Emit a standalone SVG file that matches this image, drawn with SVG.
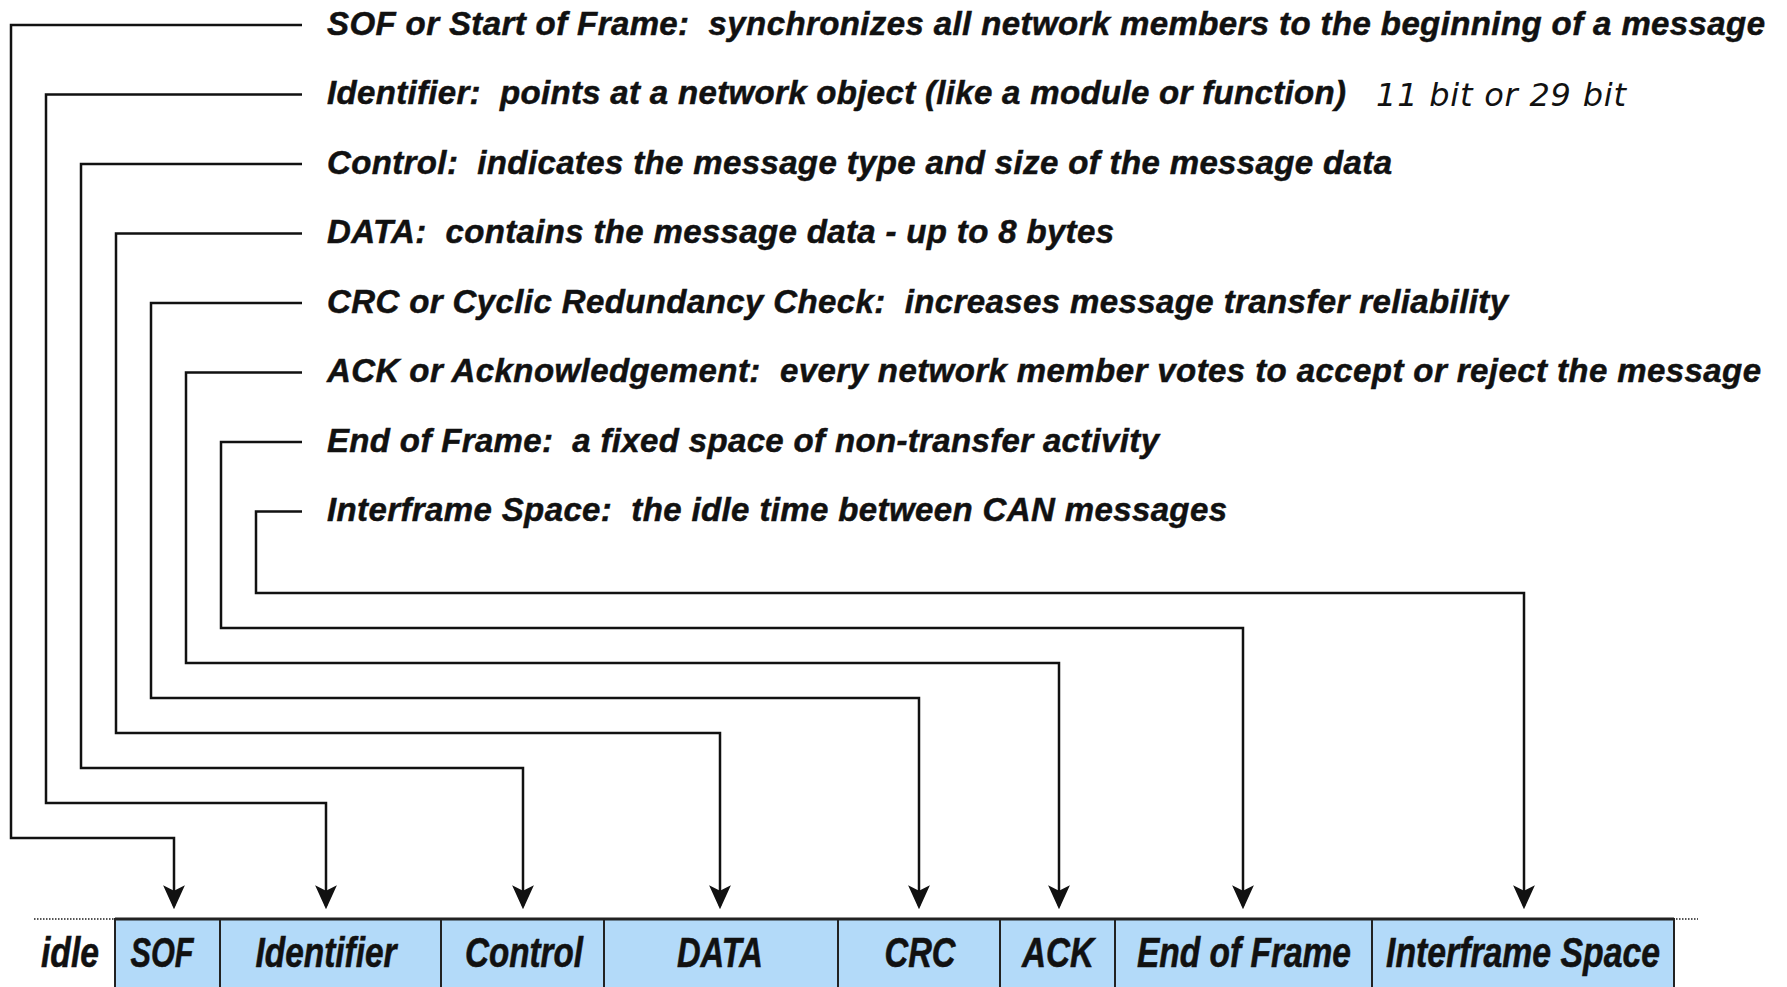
<svg xmlns="http://www.w3.org/2000/svg" width="1787" height="987" viewBox="0 0 1787 987">
  <style>
    .desc { font-family: "Liberation Sans", Arial, sans-serif; font-weight: bold; font-style: italic; font-size: 33px; fill: #111; stroke: #111; stroke-width: 0.5; }
    .note { font-family: "DejaVu Sans", "Liberation Sans", sans-serif; font-style: italic; font-weight: 300; font-size: 32px; fill: #111; }
    .lbl { font-family: "Liberation Sans", Arial, sans-serif; font-weight: bold; font-style: italic; font-size: 43px; fill: #111; stroke: #111; stroke-width: 0.6; text-anchor: middle; }
    .field { fill: #b3daf9; stroke: #222; stroke-width: 2; }
    .wire { fill: none; stroke: #111; stroke-width: 2.5; }
    .arrow { marker-end: url(#head); }
    .dots { stroke: #555; stroke-width: 2; stroke-dasharray: 1.5 1.5; }
  </style>
  <defs>
    <marker id="head" markerUnits="userSpaceOnUse" markerWidth="24" markerHeight="24" viewBox="0 -11 22 22" refX="19" refY="0" orient="auto">
      <path d="M0,-10 L22,0 L0,10 L5,0 Z" fill="#111"/>
    </marker>
  </defs>

  <rect width="1787" height="987" fill="#ffffff"/>

  <!-- field descriptions -->
  <g id="desc-sof"><text class="desc" x="327" y="34.5" xml:space="preserve" textLength="1438">SOF or Start of Frame:  synchronizes all network members to the beginning of a message</text></g>
  <g id="desc-identifier">
    <text class="desc" x="327" y="104" xml:space="preserve" textLength="1019">Identifier:  points at a network object (like a module or function)</text>
    <text class="note" x="1376" y="106" textLength="250">11 bit or 29 bit</text>
  </g>
  <g id="desc-control"><text class="desc" x="327" y="173.5" xml:space="preserve" textLength="1065">Control:  indicates the message type and size of the message data</text></g>
  <g id="desc-data"><text class="desc" x="327" y="243" xml:space="preserve" textLength="787">DATA:  contains the message data - up to 8 bytes</text></g>
  <g id="desc-crc"><text class="desc" x="327" y="312.5" xml:space="preserve" textLength="1181">CRC or Cyclic Redundancy Check:  increases message transfer reliability</text></g>
  <g id="desc-ack"><text class="desc" x="327" y="382" xml:space="preserve" textLength="1434">ACK or Acknowledgement:  every network member votes to accept or reject the message</text></g>
  <g id="desc-eof"><text class="desc" x="327" y="451.5" xml:space="preserve" textLength="832">End of Frame:  a fixed space of non-transfer activity</text></g>
  <g id="desc-ifs"><text class="desc" x="327" y="521" xml:space="preserve" textLength="900">Interframe Space:  the idle time between CAN messages</text></g>

  <!-- leader lines from each description down to its field -->
  <g id="connectors">
    <path class="wire arrow" d="M302,25 H11 V838 H174 V906"/>
    <path class="wire arrow" d="M302,94.5 H46 V803 H326 V906"/>
    <path class="wire arrow" d="M302,164 H81 V768 H523 V906"/>
    <path class="wire arrow" d="M302,233.5 H116 V733 H720 V906"/>
    <path class="wire arrow" d="M302,303 H151 V698 H919 V906"/>
    <path class="wire arrow" d="M302,372.5 H186 V663 H1059 V906"/>
    <path class="wire arrow" d="M302,442 H221 V628 H1243 V906"/>
    <path class="wire arrow" d="M302,511.5 H256 V593 H1524 V906"/>
  </g>

  <!-- bus idle level on either side of the frame -->
  <g id="idle">
    <line class="dots" x1="34" y1="919" x2="115" y2="919"/>
    <line class="dots" x1="1676" y1="919" x2="1698" y2="919"/>
    <text class="lbl" x="70" y="967" textLength="58" lengthAdjust="spacingAndGlyphs">idle</text>
  </g>

  <!-- frame fields -->
  <g id="field-sof">
    <rect class="field" x="115" y="919" width="105" height="80"/>
    <text class="lbl" x="162" y="967" textLength="63" lengthAdjust="spacingAndGlyphs">SOF</text>
  </g>
  <g id="field-identifier">
    <rect class="field" x="220" y="919" width="221" height="80"/>
    <text class="lbl" x="326" y="967" textLength="141" lengthAdjust="spacingAndGlyphs">Identifier</text>
  </g>
  <g id="field-control">
    <rect class="field" x="441" y="919" width="163" height="80"/>
    <text class="lbl" x="524" y="967" textLength="118" lengthAdjust="spacingAndGlyphs">Control</text>
  </g>
  <g id="field-data">
    <rect class="field" x="604" y="919" width="234" height="80"/>
    <text class="lbl" x="720" y="967" textLength="86" lengthAdjust="spacingAndGlyphs">DATA</text>
  </g>
  <g id="field-crc">
    <rect class="field" x="838" y="919" width="162" height="80"/>
    <text class="lbl" x="920" y="967" textLength="71" lengthAdjust="spacingAndGlyphs">CRC</text>
  </g>
  <g id="field-ack">
    <rect class="field" x="1000" y="919" width="115" height="80"/>
    <text class="lbl" x="1058" y="967" textLength="72" lengthAdjust="spacingAndGlyphs">ACK</text>
  </g>
  <g id="field-eof">
    <rect class="field" x="1115" y="919" width="257" height="80"/>
    <text class="lbl" x="1244" y="967" textLength="214" lengthAdjust="spacingAndGlyphs">End of Frame</text>
  </g>
  <g id="field-ifs">
    <rect class="field" x="1372" y="919" width="302" height="80"/>
    <text class="lbl" x="1523" y="967" textLength="274" lengthAdjust="spacingAndGlyphs">Interframe Space</text>
  </g>
  <line x1="115" y1="919" x2="1674" y2="919" stroke="#222" stroke-width="3"/>
</svg>
